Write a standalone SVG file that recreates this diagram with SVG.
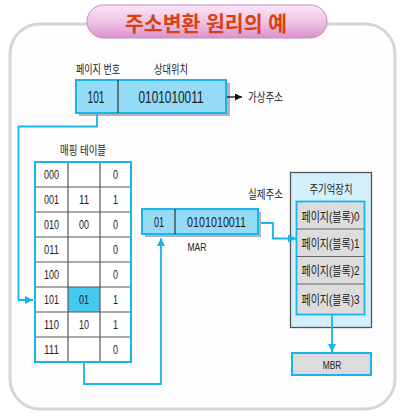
<svg xmlns="http://www.w3.org/2000/svg" width="404" height="418" viewBox="0 0 404 418">
<defs>
<linearGradient id="pill" x1="0" y1="0" x2="0" y2="1">
<stop offset="0" stop-color="#fbe6f6"/>
<stop offset="0.5" stop-color="#f0c4e6"/>
<stop offset="1" stop-color="#d992cb"/>
</linearGradient>
<marker id="ab" viewBox="0 0 8 8" refX="8" refY="4" markerWidth="8" markerHeight="8" markerUnits="userSpaceOnUse" orient="auto">
<path d="M0,0 L8,4 L0,8 Z" fill="#19b4ea"/>
</marker>
<marker id="ak" viewBox="0 0 8 8" refX="8" refY="4" markerWidth="7" markerHeight="7" markerUnits="userSpaceOnUse" orient="auto">
<path d="M0,0 L8,4 L0,8 Z" fill="#111"/>
</marker>
</defs>
<style>
text{font-family:"Liberation Sans","Noto Sans CJK KR",sans-serif;fill:#222;text-anchor:middle}
.k{font-size:12px}
.d{font-size:13px}
.big{font-size:17px}
.box{fill:#94dbf7;stroke:#19b4ea;stroke-width:2}
.sh{fill:#b4b4b4}
.con{fill:none;stroke:#19b4ea;stroke-width:1.8}
.grid{stroke:#555;stroke-width:1.2}
</style>
<rect x="0" y="0" width="404" height="418" fill="#ffffff"/>
<rect x="10" y="24" width="385" height="385" rx="30" fill="#fdfdfd" stroke="#d6d6d6" stroke-width="3"/>
<g id="title">
<rect x="87" y="5" width="240" height="33" rx="16.5" fill="url(#pill)" stroke="#c98abd" stroke-width="1"/>
<text x="206" y="31" style="font-size:21px;font-weight:bold;fill:#d9400f" textLength="162" lengthAdjust="spacingAndGlyphs">주소변환 원리의 예</text>
</g>
<g id="virtual">
<text class="k" x="98" y="74" textLength="44" lengthAdjust="spacingAndGlyphs">페이지 번호</text>
<text class="k" x="171" y="74" textLength="34" lengthAdjust="spacingAndGlyphs">상대위치</text>
<rect class="sh" x="79" y="83" width="151" height="33"/>
<rect class="box" x="76" y="80" width="150" height="33"/>
<line x1="118" y1="80" x2="118" y2="113" stroke="#333" stroke-width="1.2"/>
<text class="big" x="96" y="103" textLength="17" lengthAdjust="spacingAndGlyphs">101</text>
<text class="big" x="171" y="103" textLength="65" lengthAdjust="spacingAndGlyphs">0101010011</text>
<line x1="227" y1="97" x2="242" y2="97" stroke="#111" stroke-width="1.3" marker-end="url(#ak)"/>
<text class="k" x="265.5" y="102" textLength="35" lengthAdjust="spacingAndGlyphs">가상주소</text>
</g>
<g id="table">
<text class="k" x="83" y="155" textLength="46" lengthAdjust="spacingAndGlyphs">매핑 테이블</text>
<rect x="35" y="162" width="96" height="200" fill="#ffffff"/>
<rect x="68" y="287" width="32" height="25" fill="#45c8f0"/>
<g class="grid">
<line x1="68" y1="162" x2="68" y2="362"/>
<line x1="100" y1="162" x2="100" y2="362"/>
<line x1="35" y1="187" x2="131" y2="187"/>
<line x1="35" y1="212" x2="131" y2="212"/>
<line x1="35" y1="237" x2="131" y2="237"/>
<line x1="35" y1="262" x2="131" y2="262"/>
<line x1="35" y1="287" x2="131" y2="287"/>
<line x1="35" y1="312" x2="131" y2="312"/>
<line x1="35" y1="337" x2="131" y2="337"/>
</g>
<rect x="35" y="162" width="96" height="200" fill="none" stroke="#19b4ea" stroke-width="2"/>
<g class="d">
<text x="51.5" y="179" textLength="15" lengthAdjust="spacingAndGlyphs">000</text>
<text x="115.5" y="179" textLength="5" lengthAdjust="spacingAndGlyphs">0</text>
<text x="51.5" y="204" textLength="15" lengthAdjust="spacingAndGlyphs">001</text>
<text x="84" y="204" textLength="10" lengthAdjust="spacingAndGlyphs">11</text>
<text x="115.5" y="204" textLength="5" lengthAdjust="spacingAndGlyphs">1</text>
<text x="51.5" y="229" textLength="15" lengthAdjust="spacingAndGlyphs">010</text>
<text x="84" y="229" textLength="10" lengthAdjust="spacingAndGlyphs">00</text>
<text x="115.5" y="229" textLength="5" lengthAdjust="spacingAndGlyphs">0</text>
<text x="51.5" y="254" textLength="15" lengthAdjust="spacingAndGlyphs">011</text>
<text x="115.5" y="254" textLength="5" lengthAdjust="spacingAndGlyphs">0</text>
<text x="51.5" y="279" textLength="15" lengthAdjust="spacingAndGlyphs">100</text>
<text x="115.5" y="279" textLength="5" lengthAdjust="spacingAndGlyphs">0</text>
<text x="51.5" y="304" textLength="15" lengthAdjust="spacingAndGlyphs">101</text>
<text x="84" y="304" textLength="10" lengthAdjust="spacingAndGlyphs">01</text>
<text x="115.5" y="304" textLength="5" lengthAdjust="spacingAndGlyphs">1</text>
<text x="51.5" y="329" textLength="15" lengthAdjust="spacingAndGlyphs">110</text>
<text x="84" y="329" textLength="10" lengthAdjust="spacingAndGlyphs">10</text>
<text x="115.5" y="329" textLength="5" lengthAdjust="spacingAndGlyphs">1</text>
<text x="51.5" y="354" textLength="15" lengthAdjust="spacingAndGlyphs">111</text>
<text x="115.5" y="354" textLength="5" lengthAdjust="spacingAndGlyphs">0</text>
</g>
</g>
<g id="mar">
<text class="k" x="265.5" y="199" textLength="35" lengthAdjust="spacingAndGlyphs">실제주소</text>
<rect class="sh" x="145" y="212" width="116" height="25"/>
<rect class="box" x="142" y="209" width="116" height="25"/>
<line x1="175" y1="209" x2="175" y2="234" stroke="#333" stroke-width="1.2"/>
<text x="159" y="227" style="font-size:14px" textLength="10" lengthAdjust="spacingAndGlyphs">01</text>
<text x="216.5" y="227" style="font-size:14px" textLength="59" lengthAdjust="spacingAndGlyphs">0101010011</text>
<text x="197" y="250.5" style="font-size:11px" textLength="19" lengthAdjust="spacingAndGlyphs">MAR</text>
</g>
<g id="memory">
<rect x="290.5" y="172.5" width="81" height="155" fill="#d2effc" stroke="#555" stroke-width="1.3"/>
<text class="k" x="331" y="194" textLength="43" lengthAdjust="spacingAndGlyphs">주기억장치</text>
<rect x="296.5" y="201.5" width="68" height="113" fill="#dcdcdc" stroke="#19b4ea" stroke-width="1.8"/>
<g stroke="#666" stroke-width="1">
<line x1="297" y1="229" x2="364" y2="229"/>
<line x1="297" y1="256.5" x2="364" y2="256.5"/>
<line x1="297" y1="284" x2="364" y2="284"/>
</g>
<g style="font-size:13px">
<text x="330.5" y="221" textLength="58" lengthAdjust="spacingAndGlyphs">페이지(블록)0</text>
<text x="330.5" y="247.5" textLength="58" lengthAdjust="spacingAndGlyphs">페이지(블록)1</text>
<text x="330.5" y="275" textLength="58" lengthAdjust="spacingAndGlyphs">페이지(블록)2</text>
<text x="330.5" y="304" textLength="58" lengthAdjust="spacingAndGlyphs">페이지(블록)3</text>
</g>
</g>
<g id="mbr">
<rect x="292" y="353" width="79" height="22" fill="#dcdcdc" stroke="#19b4ea" stroke-width="2"/>
<text x="332" y="368.5" style="font-size:11px" textLength="18.5" lengthAdjust="spacingAndGlyphs">MBR</text>
</g>
<g id="connectors">
<polyline class="con" points="97,113 97,126.5 18.5,126.5 18.5,300 33,300" marker-end="url(#ab)"/>
<polyline class="con" points="84,362 84,384 161,384 161,238" marker-end="url(#ab)"/>
<polyline class="con" points="261,223 273,223 273,238.5 296,238.5" marker-end="url(#ab)"/>
<line class="con" x1="332" y1="315" x2="332" y2="352" marker-end="url(#ab)"/>
</g>
</svg>
